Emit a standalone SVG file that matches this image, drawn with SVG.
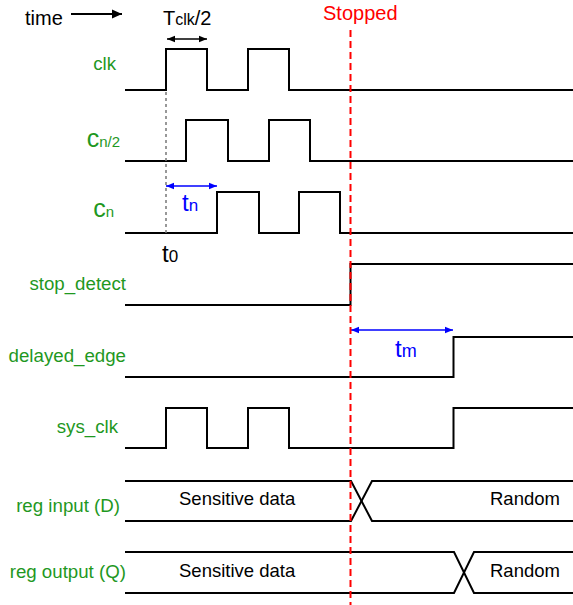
<svg xmlns="http://www.w3.org/2000/svg" width="573" height="605" viewBox="0 0 573 605">
<style>
.w{fill:none;stroke:#000;stroke-width:2;stroke-linejoin:miter}
.lbl{font-family:"Liberation Sans",Arial,sans-serif;font-size:18.7px;fill:#1f981f;text-anchor:end}
.t{font-family:"Liberation Sans",Arial,sans-serif;fill:#000}
.blue{fill:#0000ff}
.ba{stroke:#0000ff;stroke-width:1.5;fill:none}
.ka{stroke:#000;stroke-width:1.5;fill:none}
</style>
<defs>
<marker id="ak" viewBox="0 0 10 10" refX="10" refY="5" markerWidth="9" markerHeight="8" markerUnits="userSpaceOnUse" orient="auto-start-reverse"><path d="M0,1 L10,5 L0,9 z" fill="#000"/></marker>
<marker id="ab" viewBox="0 0 10 10" refX="10" refY="5" markerWidth="9" markerHeight="8" markerUnits="userSpaceOnUse" orient="auto-start-reverse"><path d="M0,1 L10,5 L0,9 z" fill="#0000ff"/></marker>
<marker id="abig" viewBox="0 0 10 10" refX="10" refY="5" markerWidth="11" markerHeight="10" markerUnits="userSpaceOnUse" orient="auto"><path d="M0,0.5 L10,5 L0,9.5 z" fill="#000"/></marker>
</defs>
<rect width="573" height="605" fill="#fff"/>

<g id="header">
<text class="t" x="25" y="25" font-size="20">time</text>
<text class="t" x="163" y="25" font-size="20">T<tspan font-size="16">clk</tspan>/2</text>
<text x="323" y="20" font-family="Liberation Sans,Arial,sans-serif" font-size="20" fill="#ff0000">Stopped</text>
</g>

<g id="sig-clk">
<text class="lbl" x="116" y="70">clk</text>
<path class="w" d="M125,90 H166 V49 H207 V90 H248 V49 H289 V90 H573"/>
</g>
<g id="sig-cn2">
<text class="lbl" x="120" y="147"><tspan font-size="25">c</tspan><tspan font-size="15">n/2</tspan></text>
<path class="w" d="M125,161 H186 V120 H228 V161 H269 V120 H310 V161 H573"/>
</g>
<g id="sig-cn">
<text class="lbl" x="114" y="217"><tspan font-size="25">c</tspan><tspan font-size="15">n</tspan></text>
<path class="w" d="M125,233 H217 V192 H259 V233 H299 V192 H340 V233 H573"/>
</g>
<g id="sig-t0">
<text class="t" x="162" y="262" font-size="24">t<tspan font-size="17">0</tspan></text>
</g>
<g id="sig-stop">
<text class="lbl" x="126" y="290">stop_detect</text>
<path class="w" d="M125,305 H350.5 V264 H573"/>
</g>
<g id="sig-delayed">
<text class="lbl" x="126" y="362">delayed_edge</text>
<path class="w" d="M125,377 H453.5 V337 H573"/>
</g>
<g id="sig-sysclk">
<text class="lbl" x="118" y="433">sys_clk</text>
<path class="w" d="M125,448 H166 V408 H207 V448 H248 V408 H289 V448 H453.5 V408 H573"/>
</g>
<g id="sig-regd">
<text class="lbl" x="120" y="512">reg input (D)</text>
<path class="w" d="M125,481 H351 L372,521 H573"/>
<path class="w" d="M125,521 H351 L372,481 H573"/>
<text class="t" x="179" y="505" font-size="18.5">Sensitive data</text>
<text class="t" x="490" y="505" font-size="18.5">Random</text>
</g>
<g id="sig-regq">
<text class="lbl" x="126" y="578">reg output (Q)</text>
<path class="w" d="M125,552 H454 L474,593 H573"/>
<path class="w" d="M125,593 H454 L474,552 H573"/>
<text class="t" x="179" y="577" font-size="18.5">Sensitive data</text>
<text class="t" x="490" y="577" font-size="18.5">Random</text>
</g>

<g id="connectors">
<line x1="71" y1="14" x2="122" y2="14" stroke="#000" stroke-width="2" marker-end="url(#abig)"/>
<line class="ka" x1="167" y1="39" x2="207" y2="39" marker-start="url(#ak)" marker-end="url(#ak)"/>
<line x1="166" y1="92" x2="166" y2="233" stroke="#777" stroke-width="1.5" stroke-dasharray="3,3"/>
<line class="ba" x1="166" y1="186" x2="217" y2="186" marker-start="url(#ab)" marker-end="url(#ab)"/>
<text class="blue" x="182" y="211" font-family="Liberation Sans,Arial,sans-serif" font-size="24">t<tspan font-size="17">n</tspan></text>
<line class="ba" x1="351" y1="330" x2="453" y2="330" marker-start="url(#ab)" marker-end="url(#ab)"/>
<text class="blue" x="395" y="357" font-family="Liberation Sans,Arial,sans-serif" font-size="24">t<tspan font-size="18">m</tspan></text>
<line x1="350.5" y1="30" x2="350.5" y2="605" stroke="#ff0000" stroke-width="2" stroke-dasharray="7,4"/>
</g>
</svg>
